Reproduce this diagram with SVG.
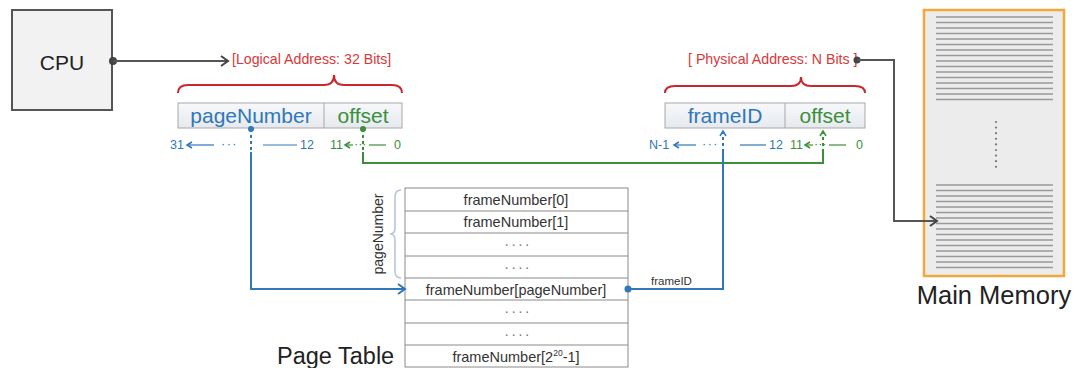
<svg xmlns="http://www.w3.org/2000/svg" width="1077" height="368" viewBox="0 0 1077 368">
<style>
text{font-family:"Liberation Sans",Arial,sans-serif}
.blue{fill:#2f78b9}
.green{fill:#3b8f3b}
.red{fill:#d9383a}
.dark{fill:#222}
.row{font-size:14.5px;fill:#333;text-anchor:middle}
.dots{fill:#777;letter-spacing:2px}
.bit{font-size:12.5px}
.bl{stroke:#2f78b9;stroke-width:2;fill:none}
.gl{stroke:#3b8f3b;stroke-width:2;fill:none}
.kl{stroke:#555;stroke-width:2;fill:none}
.thinb{stroke:#2f78b9;stroke-width:1.2;fill:none}
.thing{stroke:#3b8f3b;stroke-width:1.2;fill:none}
.mline{stroke:#999;stroke-width:1.3}
</style>
<defs>
<marker id="arrK" markerWidth="10" markerHeight="12" refX="8" refY="6" orient="auto" markerUnits="userSpaceOnUse">
<path d="M1,1 L8,6 L1,11" fill="none" stroke="#444" stroke-width="2"/>
</marker>
<marker id="arrB" markerWidth="10" markerHeight="12" refX="8" refY="6" orient="auto" markerUnits="userSpaceOnUse">
<path d="M1,1 L8,6 L1,11" fill="none" stroke="#2f78b9" stroke-width="2"/>
</marker>
<marker id="arrBs" markerWidth="8" markerHeight="8" refX="6" refY="4" orient="auto" markerUnits="userSpaceOnUse">
<path d="M1,1 L6,4 L1,7" fill="none" stroke="#2f78b9" stroke-width="1.5"/>
</marker>
<marker id="arrGs" markerWidth="8" markerHeight="8" refX="6" refY="4" orient="auto" markerUnits="userSpaceOnUse">
<path d="M1,1 L6,4 L1,7" fill="none" stroke="#3b8f3b" stroke-width="1.5"/>
</marker>
<linearGradient id="boxg" x1="0" y1="0" x2="0" y2="1">
<stop offset="0" stop-color="#f7f8fa"/>
<stop offset="1" stop-color="#e6e9ee"/>
</linearGradient>
</defs>

<g id="cpu">
<rect x="12" y="10" width="100" height="100" fill="#f2f2f2" stroke="#555" stroke-width="2"/>
<text x="62" y="70" font-size="21" text-anchor="middle" class="dark">CPU</text>
</g>

<g id="logical-address">
<text x="232" y="64" font-size="14.2" class="red">[Logical Address: 32 Bits]</text>
<path d="M178,93 Q178,85 188,85 L324,85 Q334,85 334,75 Q334,85 344,85 L392,85 Q402,85 402,93" fill="none" stroke="#c8282d" stroke-width="2"/>
<rect x="178" y="103" width="224" height="25" fill="url(#boxg)" stroke="#a8a8a8" stroke-width="1"/>
<line x1="324" y1="103" x2="324" y2="128" stroke="#a8a8a8"/>
<text x="251" y="123" font-size="21" text-anchor="middle" class="blue">pageNumber</text>
<text x="363" y="123" font-size="21" text-anchor="middle" class="green">offset</text>
<text x="170" y="149" class="bit blue">31</text>
<line x1="214" y1="145" x2="187" y2="145" class="thinb" marker-end="url(#arrBs)"/>
<text x="221" y="148" class="bit blue" letter-spacing="1.5">···</text>
<line x1="263" y1="145" x2="297" y2="145" class="thinb"/>
<text x="300" y="149" class="bit blue">12</text>
<text x="330" y="149" class="bit green">11</text>
<line x1="353" y1="145" x2="345" y2="145" class="thing" marker-end="url(#arrGs)"/>
<text x="354" y="148" class="bit green">···</text>
<line x1="369" y1="145" x2="386" y2="145" class="thing"/>
<text x="394" y="149" class="bit green">0</text>
</g>

<g id="physical-address">
<text x="688" y="64" font-size="14.2" class="red">[ Physical Address: N Bits ]</text>
<path d="M665,93 Q665,86 675,86 L791,86 Q801,86 801,77 Q801,86 811,86 L855,86 Q865,86 865,93" fill="none" stroke="#c8282d" stroke-width="2"/>
<rect x="665" y="103" width="200" height="25" fill="url(#boxg)" stroke="#a8a8a8" stroke-width="1"/>
<line x1="785" y1="103" x2="785" y2="128" stroke="#a8a8a8"/>
<text x="725" y="123" font-size="21" text-anchor="middle" class="blue">frameID</text>
<text x="825" y="123" font-size="21" text-anchor="middle" class="green">offset</text>
<text x="649" y="149" class="bit blue">N-1</text>
<line x1="696" y1="145" x2="674" y2="145" class="thinb" marker-end="url(#arrBs)"/>
<text x="702" y="148" class="bit blue" letter-spacing="1.5">···</text>
<line x1="740" y1="145" x2="766" y2="145" class="thinb"/>
<text x="769" y="149" class="bit blue">12</text>
<text x="790" y="149" class="bit green">11</text>
<line x1="813" y1="145" x2="805" y2="145" class="thing" marker-end="url(#arrGs)"/>
<text x="814" y="148" class="bit green">···</text>
<line x1="829" y1="145" x2="846" y2="145" class="thing"/>
<text x="856" y="149" class="bit green">0</text>
</g>

<g id="page-table">
<rect x="405" y="188" width="223" height="179" fill="#fff" stroke="#8a8a8a" stroke-width="1"/>
<g stroke="#8a8a8a" stroke-width="1">
<line x1="405" y1="211" x2="628" y2="211"/>
<line x1="405" y1="233" x2="628" y2="233"/>
<line x1="405" y1="256" x2="628" y2="256"/>
<line x1="405" y1="278" x2="628" y2="278"/>
<line x1="405" y1="300" x2="628" y2="300"/>
<line x1="405" y1="323" x2="628" y2="323"/>
<line x1="405" y1="345" x2="628" y2="345"/>
</g>
<text x="516" y="205" class="row">frameNumber[0]</text>
<text x="516" y="227" class="row">frameNumber[1]</text>
<text x="518" y="249" class="row dots">····</text>
<text x="518" y="272" class="row dots">····</text>
<text x="516" y="295" class="row" font-size="15.5">frameNumber[pageNumber]</text>
<text x="518" y="316" class="row dots">····</text>
<text x="518" y="339" class="row dots">····</text>
<text x="516" y="362" class="row">frameNumber[2<tspan font-size="8.5" dy="-6">20</tspan><tspan dy="6">-1]</tspan></text>
<text transform="translate(383,234) rotate(-90)" font-size="14" text-anchor="middle" fill="#333">pageNumber</text>
<path d="M401,190 Q395,190 395,197 L395,228 Q395,234 390,234 Q395,234 395,240 L395,271 Q395,278 401,278" fill="none" stroke="#b4c4d8" stroke-width="1.5"/>
<text x="277" y="364" font-size="23.5" class="dark">Page Table</text>
</g>

<g id="main-memory">
<rect x="924" y="10" width="140" height="266" fill="#ececec" stroke="#f2a93b" stroke-width="2.5"/>
<g class="mline">
<line x1="936" y1="17" x2="1053" y2="17"/><line x1="936" y1="22.5" x2="1053" y2="22.5"/><line x1="936" y1="28" x2="1053" y2="28"/><line x1="936" y1="33.5" x2="1053" y2="33.5"/><line x1="936" y1="39" x2="1053" y2="39"/><line x1="936" y1="44.5" x2="1053" y2="44.5"/><line x1="936" y1="50" x2="1053" y2="50"/><line x1="936" y1="55.5" x2="1053" y2="55.5"/><line x1="936" y1="61" x2="1053" y2="61"/><line x1="936" y1="66.5" x2="1053" y2="66.5"/><line x1="936" y1="72" x2="1053" y2="72"/><line x1="936" y1="77.5" x2="1053" y2="77.5"/><line x1="936" y1="83" x2="1053" y2="83"/><line x1="936" y1="88.5" x2="1053" y2="88.5"/><line x1="936" y1="94" x2="1053" y2="94"/><line x1="936" y1="99.5" x2="1053" y2="99.5"/>
<line x1="936" y1="185" x2="1053" y2="185"/><line x1="936" y1="190.5" x2="1053" y2="190.5"/><line x1="936" y1="196" x2="1053" y2="196"/><line x1="936" y1="201.5" x2="1053" y2="201.5"/><line x1="936" y1="207" x2="1053" y2="207"/><line x1="936" y1="212.5" x2="1053" y2="212.5"/><line x1="936" y1="218" x2="1053" y2="218"/><line x1="936" y1="223.5" x2="1053" y2="223.5"/><line x1="936" y1="229" x2="1053" y2="229"/><line x1="936" y1="234.5" x2="1053" y2="234.5"/><line x1="936" y1="240" x2="1053" y2="240"/><line x1="936" y1="245.5" x2="1053" y2="245.5"/><line x1="936" y1="251" x2="1053" y2="251"/><line x1="936" y1="256.5" x2="1053" y2="256.5"/><line x1="936" y1="262" x2="1053" y2="262"/><line x1="936" y1="267.5" x2="1053" y2="267.5"/>
</g>
<g fill="#777">
<circle cx="996" cy="122" r="1.1"/><circle cx="996" cy="127.6" r="1.1"/><circle cx="996" cy="133.2" r="1.1"/><circle cx="996" cy="138.8" r="1.1"/><circle cx="996" cy="144.4" r="1.1"/><circle cx="996" cy="150" r="1.1"/><circle cx="996" cy="155.6" r="1.1"/><circle cx="996" cy="161.2" r="1.1"/><circle cx="996" cy="166.8" r="1.1"/>
</g>
<text x="994" y="304" font-size="25.5" text-anchor="middle" class="dark">Main Memory</text>
</g>

<g id="connectors">
<circle cx="113" cy="61" r="4" fill="#444"/>
<line x1="113" y1="61" x2="228" y2="61" class="kl" marker-end="url(#arrK)"/>
<circle cx="857" cy="60" r="3.5" fill="#444"/>
<polyline points="857,60 894,60 894,221 937,221" class="kl" marker-end="url(#arrK)"/>
<circle cx="251" cy="129" r="3" fill="#2f78b9"/>
<line x1="251" y1="129" x2="251" y2="152" class="bl" stroke-dasharray="3 3"/>
<polyline points="251,152 251,289 405,289" class="bl" marker-end="url(#arrB)"/>
<circle cx="363" cy="129" r="3" fill="#3b8f3b"/>
<line x1="363" y1="129" x2="363" y2="152" class="gl" stroke-dasharray="3 3"/>
<polyline points="363,152 363,163 823,163 823,152" class="gl"/>
<line x1="823" y1="152" x2="823" y2="131" class="gl" stroke-dasharray="3 3" marker-end="url(#arrGs)"/>
<circle cx="628" cy="289" r="3.5" fill="#2f78b9"/>
<polyline points="628,289 723,289 723,152" class="bl"/>
<line x1="723" y1="152" x2="723" y2="131" class="bl" stroke-dasharray="3 3" marker-end="url(#arrBs)"/>
<text x="651" y="285" font-size="11.5" fill="#333">frameID</text>
</g>
</svg>
